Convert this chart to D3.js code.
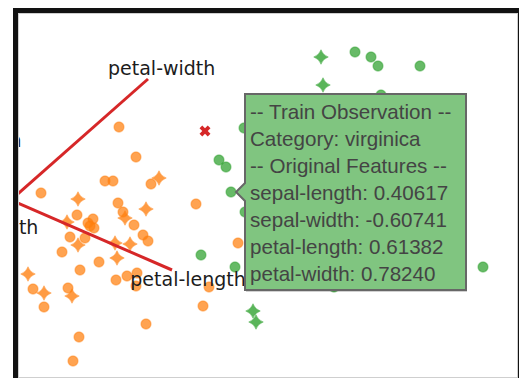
<!DOCTYPE html>
<html>
<head>
<meta charset="utf-8">
<script src="https://cdn.jsdelivr.net/npm/d3@7"></script>
<style>
  html, body { margin: 0; padding: 0; background: #fff; overflow: hidden; }
  svg { display: block; }
</style>
</head>
<body>
<svg id="chart" width="519" height="378"></svg>
<script>
// Projected observations on the first two principal components (PC1, PC2)
const versicolorTrain = [
  [1.08, 0.73], [1.25, 0.43], [0.94, 0.19], [1.02, 0.19], [1.40, 0.16],
  [0.30, 0.07], [1.07, -0.03], [1.12, -0.12], [0.66, -0.15], [0.77, -0.23],
  [0.82, -0.19], [0.83, -0.28], [0.79, -0.26], [1.23, -0.25], [0.59, -0.37],
  [0.74, -0.38], [1.32, -0.35], [1.37, -0.41], [1.85, -0.04], [2.27, -0.43],
  [0.51, -0.52], [0.88, -0.62], [0.69, -0.70], [1.05, -0.80], [1.16, -0.76],
  [1.26, -0.73], [1.25, -0.86], [0.22, -0.89], [0.57, -0.88], [0.33, -1.07],
  [1.98, -0.87], [1.92, -1.06], [1.35, -1.24], [0.68, -1.37], [0.62, -1.61]
];
const versicolorTest = [
  [1.48, 0.22], [0.67, 0.01], [1.35, -0.09], [1.14, -0.18], [0.56, -0.22],
  [0.67, -0.45], [1.04, -0.43], [1.19, -0.44], [1.06, -0.58], [0.17, -0.74],
  [0.33, -0.93], [0.61, -0.96]
];
const virginicaTrain = [
  [2.08, 0.40], [2.15, 0.33], [2.20, 0.08], [2.33, 0.72], [2.34, -0.12],
  [1.90, -0.55], [2.24, -0.67], [3.44, 1.48], [3.60, 1.43], [3.67, 1.34],
  [4.09, 1.34], [3.70, 1.05], [4.72, -0.67], [3.23, -0.87]
];
const virginicaTest = [
  [3.10, 1.43], [3.12, 1.15], [2.42, -1.11], [2.45, -1.22]
];
const misclassified = [[1.94, 0.69]];

// Feature loadings (biplot arrows)
const loadingNames = ["sepal-length", "sepal-width", "petal-length", "petal-width"];
const loadingPC1 = [-0.44, -0.25, 1.61, 1.37];
const loadingPC2 = [0.56, -0.23, -0.70, 1.21];

// Observation under the pointer and its tooltip text
const hoveredPoint = [2.20, 0.08];
const tooltipLines = [
  "-- Train Observation --",
  "Category: virginica",
  "-- Original Features --",
  "sepal-length: 0.40617",
  "sepal-width: -0.60741",
  "petal-length: 0.61382",
  "petal-width: 0.78240"
];

const svg = d3.select("#chart");
const W = 519, H = 378;

// Panel frame
const panel = { left: 18, top: 13, right: 518, bottom: 378 };

svg.append("rect").attr("x", 13).attr("y", 8)
  .attr("width", W - 13).attr("height", H - 8).attr("fill", "#121212");
svg.append("rect").attr("x", panel.left).attr("y", panel.top)
  .attr("width", panel.right - panel.left).attr("height", panel.bottom - panel.top)
  .attr("fill", "#fff");

const x = d3.scaleLinear().domain([0, 5]).range([11, 511]);
const y = d3.scaleLinear().domain([-2, 2]).range([400, 0]);

svg.append("clipPath").attr("id", "plot-clip")
  .append("rect").attr("x", panel.left).attr("y", panel.top)
  .attr("width", panel.right - panel.left).attr("height", panel.bottom - panel.top);

const plot = svg.append("g").attr("clip-path", "url(#plot-clip)");

// Four-pointed sparkle used for test observations
const sparkle = {
  draw(ctx, size) {
    const R = Math.sqrt(size);
    const c = R * 0.25;
    ctx.moveTo(0, -R);
    ctx.quadraticCurveTo(c, -c, R, 0);
    ctx.quadraticCurveTo(c, c, 0, R);
    ctx.quadraticCurveTo(-c, c, -R, 0);
    ctx.quadraticCurveTo(-c, -c, 0, -R);
    ctx.closePath();
  }
};

const ORANGE = "#ff7f0e", GREEN = "#2ca02c", RED = "#d62728";

function circles(data, color) {
  plot.append("g").selectAll("circle").data(data).join("circle")
    .attr("cx", d => x(d[0])).attr("cy", d => y(d[1])).attr("r", 5)
    .attr("fill", color).attr("fill-opacity", 0.72)
    .attr("stroke", color).attr("stroke-opacity", 0.45).attr("stroke-width", 1.3);
}
function stars(data, color) {
  plot.append("g").selectAll("path").data(data).join("path")
    .attr("transform", d => `translate(${x(d[0])},${y(d[1])})`)
    .attr("d", d3.symbol().type(sparkle).size(53))
    .attr("fill", color).attr("fill-opacity", 0.78)
    .attr("stroke", color).attr("stroke-opacity", 0.4).attr("stroke-width", 1);
}

circles(versicolorTrain, ORANGE);
stars(versicolorTest, ORANGE);
circles(virginicaTrain, GREEN);
stars(virginicaTest, GREEN);

plot.append("g").selectAll("path").data(misclassified).join("path")
  .attr("transform", d => `translate(${x(d[0])},${y(d[1])}) rotate(45)`)
  .attr("d", d3.symbol().type(d3.symbolCross).size(75))
  .attr("fill", RED);

// Loading arrows from the origin
const loadings = loadingNames.map((n, i) => ({ name: n, pc1: loadingPC1[i], pc2: loadingPC2[i] }));
plot.append("g").selectAll("line").data(loadings).join("line")
  .attr("x1", x(0)).attr("y1", y(0))
  .attr("x2", d => x(d.pc1)).attr("y2", d => y(d.pc2))
  .attr("stroke", RED).attr("stroke-width", 3);

plot.append("g").selectAll("text").data(loadings).join("text")
  .attr("x", d => x(d.pc1 * 1.1)).attr("y", d => y(d.pc2 * 1.1))
  .attr("dy", "0.45em")
  .attr("text-anchor", "middle")
  .attr("font-family", "'DejaVu Sans', sans-serif")
  .attr("font-size", 19)
  .attr("fill", "#1c1c1c")
  .text(d => d.name);

// Tooltip attached to the hovered observation
const px = x(hoveredPoint[0]), py = y(hoveredPoint[1]);
const tipX = px + 5, bx = tipX + 9, by = py - 98, bw = 221, bh = 196;
const tipPath = `M${bx},${by}H${bx + bw}V${by + bh}H${bx}V${py + 9}L${tipX},${py}L${bx},${py - 9}Z`;

const tip = svg.append("g");
tip.append("path").attr("d", tipPath)
  .attr("transform", "translate(1,2)")
  .attr("fill", "rgba(0,0,0,0.18)");
tip.append("path").attr("d", tipPath)
  .attr("fill", "rgb(128,197,128)")
  .attr("stroke", "#676767").attr("stroke-width", 2);
tip.append("g").selectAll("text").data(tooltipLines).join("text")
  .attr("x", bx + 5)
  .attr("y", (d, i) => by + 24.5 + i * 27)
  .attr("font-family", "'Liberation Sans', Arial, sans-serif")
  .attr("font-size", 20.6)
  .attr("fill", "#444")
  .text(d => d);

// Thin panel outline
svg.append("rect").attr("x", panel.left + 0.5).attr("y", panel.top + 0.5)
  .attr("width", 499).attr("height", 364)
  .attr("fill", "none").attr("stroke", "#cfcfcf").attr("stroke-width", 1);
svg.append("rect").attr("x", 13).attr("y", 8).attr("width", 5).attr("height", H - 8).attr("fill", "#121212");
svg.append("rect").attr("x", 13).attr("y", 8).attr("width", W - 13).attr("height", 5).attr("fill", "#121212");
</script>
</body>
</html>
